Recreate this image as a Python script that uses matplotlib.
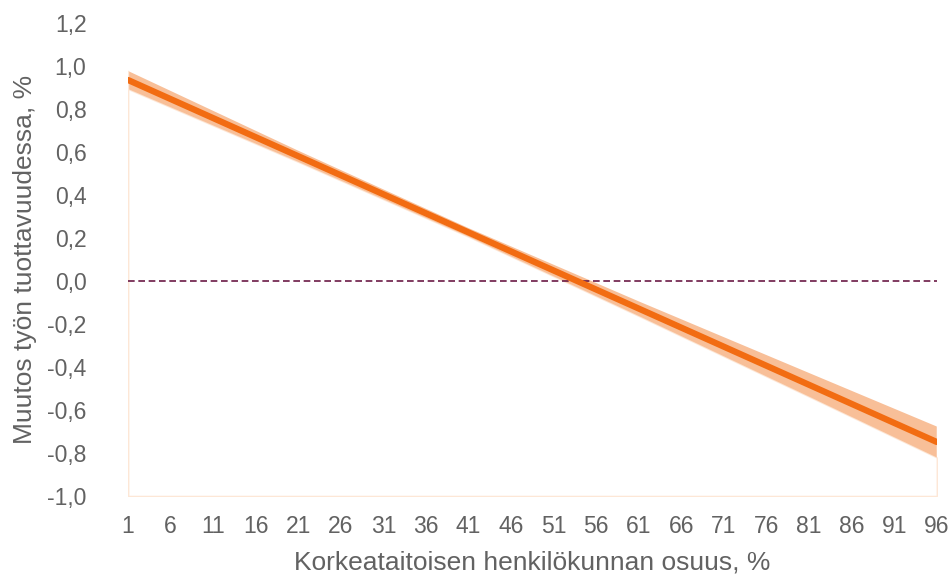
import matplotlib
matplotlib.use("Agg")
import matplotlib.pyplot as plt
from matplotlib.ticker import FuncFormatter

plt.rcParams["font.family"] = ["Liberation Sans", "DejaVu Sans"]

# fitted line (end points) and confidence band
line_x = [1, 96]
line_y = [0.935, -0.749]
band_x = [1, 21, 41, 61, 81, 96]
band_lo = [0.893, 0.554, 0.206, -0.163, -0.538, -0.821]
band_hi = [0.977, 0.606, 0.246, -0.095, -0.428, -0.677]

x_ticks = list(range(1, 97, 5))
y_ticks = [-1.0, -0.8, -0.6, -0.4, -0.2, 0.0, 0.2, 0.4, 0.6, 0.8, 1.0, 1.2]

ORANGE = "#F26C12"
BAND = "#F8BF98"
EDGE = "#FDE7D6"
GREY = "#626262"

fig = plt.figure(figsize=(9.52, 5.76), dpi=100)
ax = fig.add_axes([0.1345, 0.139, 0.8495, 0.821])

# white area under the band with a faint outline (as in the source chart)
ax.fill_between(band_x, -1.0, band_lo, facecolor="white", edgecolor=EDGE, lw=1.0)
ax.plot([1, 1], [-1.0, band_hi[0]], color=EDGE, lw=1.0)
ax.fill_between(band_x, band_lo, band_hi, facecolor=BAND, edgecolor="none")
ax.plot(line_x, line_y, color=ORANGE, lw=4.5, solid_capstyle="round", zorder=4)
ax.axhline(0.0, color="#6B1A45", lw=1.2, ls=(0, (4, 2.2)), zorder=3)

ax.set_xlim(1, 96)
ax.set_ylim(-1.0, 1.2)
ax.set_xticks(x_ticks)
ax.set_yticks(y_ticks)
ax.yaxis.set_major_formatter(FuncFormatter(lambda v, p: f"{v:.1f}".replace(".", ",")))
for s in ax.spines.values():
    s.set_visible(False)
ax.tick_params(length=0, labelsize=16.5, colors=GREY)
ax.tick_params(axis="y", pad=30)
ax.tick_params(axis="x", pad=14)
ax.set_xlabel("Korkeataitoisen henkilökunnan osuus, %", fontsize=19, color=GREY, labelpad=9)
ax.set_ylabel("Muutos työn tuottavuudessa, %", fontsize=19, color=GREY, labelpad=7)

fig.savefig("out.png", dpi=100)
